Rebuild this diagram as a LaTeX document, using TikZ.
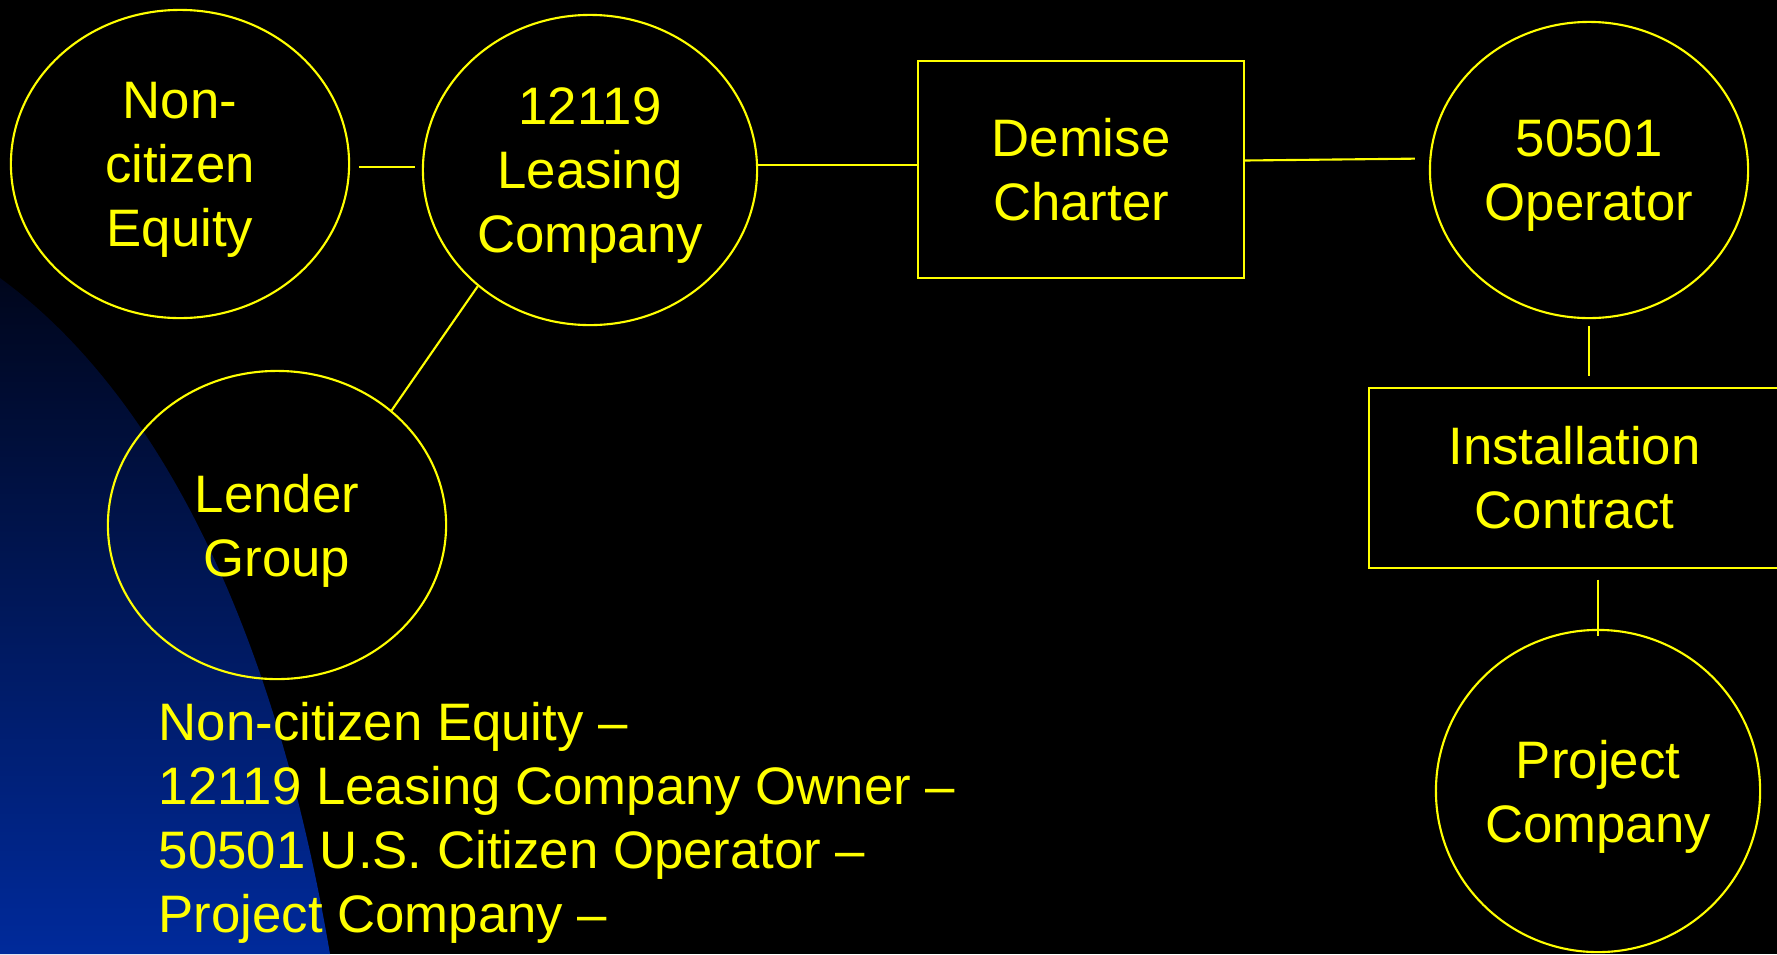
\documentclass[tikz,border=0pt]{standalone}
\usepackage{fontspec}
\setmainfont{Liberation Sans}
\usetikzlibrary{positioning, shapes.geometric}
\definecolor{slidebg}{RGB}{0,0,0}
\definecolor{glowtop}{RGB}{0,6,28}
\definecolor{glowbot}{RGB}{0,42,155}
\definecolor{linkcol}{RGB}{255,255,0}

\tikzset{
  party/.style={ellipse, draw=linkcol, line width=0.6pt, text=linkcol,
    align=center, inner sep=0pt, text depth=-1pt},
  deal/.style={rectangle, draw=linkcol, line width=0.6pt, text=linkcol,
    align=center, inner sep=0pt},
  link/.style={draw=linkcol, line width=0.6pt}
}

\begin{document}
\begin{tikzpicture}[x=0.01cm, y=-0.01cm,
    font=\fontsize{15}{18.2}\selectfont]
  \fill[slidebg] (0,0) rectangle (1777,954);
  \useasboundingbox (0,0) rectangle (1777,954);
  % blue glow in the lower left corner
  \shade[top color=glowtop, bottom color=glowbot]
    (0,278) .. controls (160,395) and (275,630) .. (330,954)
    -- (0,954) -- cycle;

  % parties and contracts
  \node[party, minimum width=3.38cm, minimum height=3.08cm] (equity) at (180,164)
    {Non-\\citizen\\Equity};
  \node[party, minimum width=3.34cm, minimum height=3.10cm] (lease) at (590,170)
    {12119\\Leasing\\Company};
  \node[deal, minimum width=3.26cm, minimum height=2.17cm] (charter) at (1081,169.5)
    {Demise\\Charter};
  \node[party, minimum width=3.18cm, minimum height=2.96cm] (oper) at (1589,170)
    {50501\\Operator};
  \node[deal, minimum width=4.11cm, minimum height=1.80cm] (install) at (1574.5,478)
    {Installation\\Contract};
  \node[party, minimum width=3.24cm, minimum height=3.22cm] (proj) at (1598,791)
    {Project\\Company};
  \node[party, minimum width=3.38cm, minimum height=3.08cm] (lender) at (277,525)
    {Lender\\Group};

  % links
  \draw[link, shorten <=2.5pt, shorten >=2pt] ([yshift=-0.03cm]equity.east) -- ([yshift=-0.03cm]equity.east -| lease.west);
  \draw[link] ([yshift=0.05cm]lease.east) -- ([yshift=0.05cm]lease.east -| charter.west);
  \draw[link, shorten >=4pt] ([yshift=0.09cm]charter.east) -- ([yshift=0.11cm]charter.east -| oper.west);
  \draw[link] (lease.226) -- (lender.45);
  \draw[link, shorten <=2pt, shorten >=3pt] (oper.south) -- (oper.south |- install.north);
  \draw[link, shorten <=3pt, shorten >=-2pt] (install.south -| proj.north) -- (proj.north);

  % legend
  \node[text=linkcol, align=left, anchor=west, inner sep=0pt] (legend) at (158,823)
    {Non-citizen Equity --\\12119 Leasing Company Owner --\\50501 U.S. Citizen Operator --\\Project Company --};
\end{tikzpicture}
\end{document}
